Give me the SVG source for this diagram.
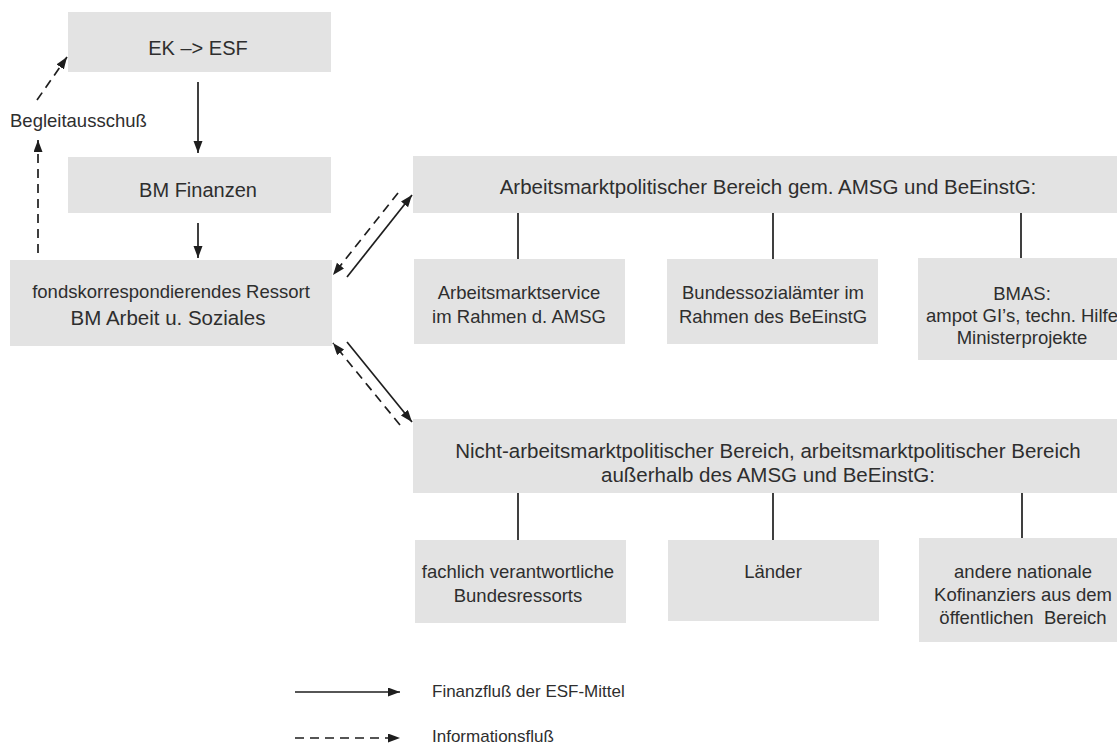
<svg xmlns="http://www.w3.org/2000/svg" width="1117" height="744" viewBox="0 0 1117 744">
<style>
.box{fill:#e3e3e3;}
text{font-family:"Liberation Sans",Arial,sans-serif;fill:#2e2e2e;text-anchor:middle;}
.t20{font-size:20px;}
.t18{font-size:18.5px;}
.lg{font-size:17px;text-anchor:start;}
.ln{stroke:#1e1e1e;stroke-width:1.7;fill:none;}
.dash{stroke-dasharray:9 6;}
</style>
<defs>
<marker id="ah" markerWidth="13" markerHeight="10" refX="12" refY="4.5" orient="auto" markerUnits="userSpaceOnUse">
<path d="M0,0 L12,4.5 L0,9 z" fill="#1e1e1e"/>
</marker>
</defs>
<rect width="1117" height="744" fill="#ffffff"/>

<g id="ek-esf"><rect class="box" x="68" y="12" width="263" height="60"/><text class="t20" x="198" y="55">EK –&gt; ESF</text></g>
<g id="bm-finanzen"><rect class="box" x="68" y="157" width="263" height="56"/><text class="t20" x="198" y="197">BM Finanzen</text></g>
<g id="ressort"><rect class="box" x="10" y="260" width="322" height="86"/>
<text class="t18" x="171" y="298">fondskorrespondierendes Ressort</text>
<text x="168" y="325" style="font-size:20.5px">BM Arbeit u. Soziales</text></g>
<g id="begleit"><text class="t18" x="10" y="127" style="text-anchor:start">Begleitausschuß</text></g>

<g id="amb"><rect class="box" x="413" y="156" width="704" height="57"/><text x="768" y="194" style="font-size:20.5px">Arbeitsmarktpolitischer Bereich gem. AMSG und BeEinstG:</text></g>
<g id="ams"><rect class="box" x="414" y="259" width="211" height="85"/><text class="t18" x="519" y="299">Arbeitsmarktservice</text><text class="t18" x="519" y="323">im Rahmen d. AMSG</text></g>
<g id="bsa"><rect class="box" x="667" y="259" width="211" height="85"/><text class="t18" x="773" y="299">Bundessozialämter im</text><text class="t18" x="773" y="323">Rahmen des BeEinstG</text></g>
<g id="bmas"><rect class="box" x="918" y="258" width="199" height="102"/><text class="t18" x="1022" y="300">BMAS:</text><text class="t18" x="1022" y="322">ampot GI’s, techn. Hilfe</text><text class="t18" x="1022" y="344">Ministerprojekte</text></g>

<g id="namb"><rect class="box" x="413" y="419" width="704" height="74"/><text x="768" y="458" style="font-size:20.5px">Nicht-arbeitsmarktpolitischer Bereich, arbeitsmarktpolitischer Bereich</text><text x="768" y="482" style="font-size:20.5px">außerhalb des AMSG und BeEinstG:</text></g>
<g id="fachlich"><rect class="box" x="415" y="540" width="211" height="83"/><text class="t18" x="518" y="578">fachlich verantwortliche</text><text class="t18" x="518" y="602">Bundesressorts</text></g>
<g id="laender"><rect class="box" x="668" y="540" width="211" height="81"/><text class="t18" x="773" y="578">Länder</text></g>
<g id="andere"><rect class="box" x="919" y="538" width="198" height="104"/><text class="t18" x="1023" y="578">andere nationale</text><text class="t18" x="1023" y="601">Kofinanziers aus dem</text><text class="t18" x="1023" y="624">öffentlichen&#160; Bereich</text></g>

<g id="connectors">
<line class="ln" x1="198" y1="82" x2="198" y2="153" marker-end="url(#ah)"/>
<line class="ln" x1="198" y1="223" x2="198" y2="258" marker-end="url(#ah)"/>
<line class="ln dash" x1="38" y1="253" x2="38" y2="140" marker-end="url(#ah)"/>
<line class="ln dash" x1="37" y1="100" x2="67" y2="57" marker-end="url(#ah)"/>
<line class="ln" x1="347" y1="277" x2="412" y2="195" marker-end="url(#ah)"/>
<line class="ln dash" x1="398" y1="193" x2="333" y2="275" marker-end="url(#ah)"/>
<line class="ln" x1="347" y1="342" x2="412" y2="422" marker-end="url(#ah)"/>
<line class="ln dash" x1="400" y1="425" x2="333" y2="343" marker-end="url(#ah)"/>
<line class="ln" x1="518" y1="213" x2="518" y2="259"/>
<line class="ln" x1="773" y1="213" x2="773" y2="259"/>
<line class="ln" x1="1021" y1="213" x2="1021" y2="258"/>
<line class="ln" x1="518" y1="493" x2="518" y2="540"/>
<line class="ln" x1="773" y1="493" x2="773" y2="540"/>
<line class="ln" x1="1022" y1="493" x2="1022" y2="538"/>
</g>

<g id="legend">
<line class="ln" x1="295" y1="692" x2="400" y2="692" marker-end="url(#ah)"/>
<text class="lg" x="432" y="697">Finanzfluß der ESF-Mittel</text>
<line class="ln dash" x1="295" y1="738" x2="400" y2="738" marker-end="url(#ah)"/>
<text class="lg" x="432" y="742">Informationsfluß</text>
</g>
</svg>
